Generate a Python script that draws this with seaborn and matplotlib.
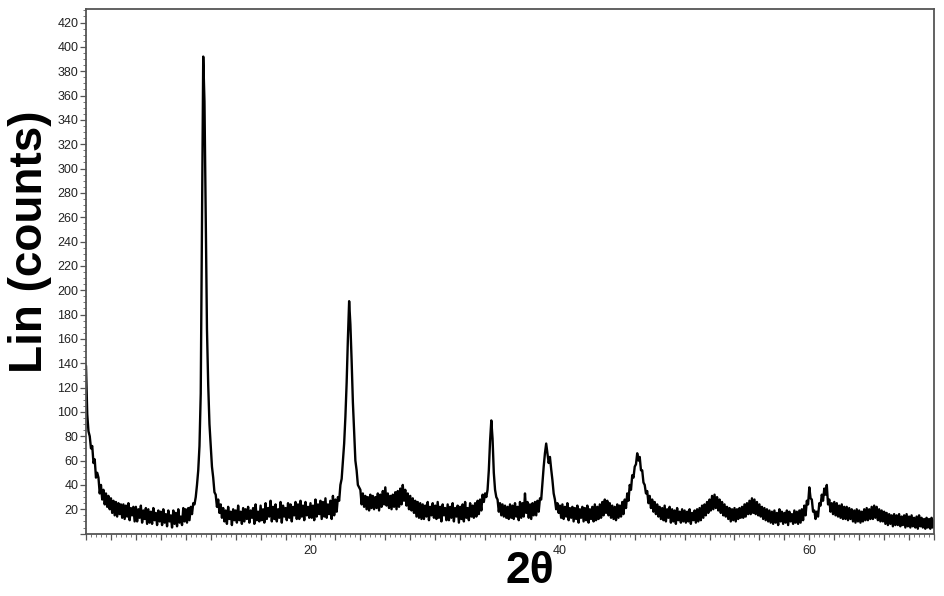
import numpy as np
import pandas as pd
import seaborn as sns
import matplotlib.pyplot as plt
from matplotlib.ticker import MultipleLocator, FuncFormatter

# XRD scan, 2theta from 2 to 70 deg, step 0.1
two_theta = np.round(np.arange(2.0, 70.05, 0.1), 1)

counts = [
    138, 98, 84, 80, 70, 72, 58, 61, 46, 50,      # 2
    46, 33, 40, 28, 36, 24, 33, 22, 31, 20,       # 3
    29, 17, 27, 15, 26, 14, 25, 16, 24, 13,       # 4
    24, 12, 23, 14, 25, 11, 21, 15, 22, 10,       # 5
    22, 10, 20, 13, 23, 9, 19, 12, 21, 8,         # 6
    20, 9, 18, 8, 21, 11, 17, 7, 19, 10,          # 7
    18, 7, 20, 9, 16, 6, 19, 10, 15, 5,           # 8
    19, 8, 17, 6, 20, 9, 14, 7, 21, 10,           # 9
    20, 9, 21, 11, 22, 16, 25, 24, 30, 40,        # 10
    52, 72, 115, 250, 392, 355, 260, 168, 122, 90,  # 11
    72, 55, 46, 34, 32, 22, 28, 17, 24, 13,       # 12
    21, 10, 19, 8, 22, 12, 18, 7, 20, 11,         # 13
    19, 9, 23, 11, 18, 8, 21, 10, 20, 12,         # 14
    22, 9, 19, 13, 21, 8, 24, 11, 18, 10,         # 15
    23, 11, 20, 9, 25, 12, 21, 14, 27, 10,        # 16
    22, 12, 24, 10, 20, 13, 26, 9, 23, 14,        # 17
    21, 11, 25, 13, 24, 10, 22, 15, 26, 12,       # 18
    24, 12, 27, 14, 23, 11, 26, 15, 22, 13,       # 19
    25, 13, 23, 11, 28, 14, 24, 16, 27, 12,       # 20
    26, 14, 29, 13, 24, 16, 27, 12, 31, 15,       # 21
    28, 18, 30, 27, 40, 45, 60, 74, 96, 124,      # 22
    160, 191, 172, 142, 108, 84, 60, 52, 40, 38,  # 23
    36, 24, 33, 22, 31, 20, 30, 19, 32, 21,       # 24
    31, 20, 30, 21, 33, 19, 32, 22, 35, 24,       # 25
    38, 23, 33, 21, 31, 20, 32, 22, 34, 20,       # 26
    35, 22, 37, 24, 40, 27, 36, 23, 33, 20,       # 27
    31, 19, 29, 17, 27, 14, 26, 13, 25, 12,       # 28
    24, 12, 23, 14, 26, 11, 22, 15, 25, 13,       # 29
    23, 12, 26, 13, 22, 10, 24, 15, 21, 11,       # 30
    24, 11, 22, 13, 25, 10, 21, 14, 23, 9,        # 31
    22, 12, 24, 10, 26, 13, 21, 11, 25, 14,       # 32
    23, 13, 25, 14, 27, 16, 28, 19, 32, 26,       # 33
    33, 30, 36, 52, 76, 93, 78, 50, 36, 30,       # 34
    28, 18, 25, 15, 24, 14, 23, 13, 22, 12,       # 35
    24, 13, 23, 12, 25, 14, 22, 11, 26, 13,       # 36
    25, 14, 33, 17, 26, 13, 24, 12, 25, 15,       # 37
    26, 15, 27, 18, 29, 28, 42, 55, 66, 74,       # 38
    66, 58, 63, 53, 44, 33, 28, 20, 25, 17,       # 39
    23, 13, 24, 12, 22, 14, 25, 11, 21, 13,       # 40
    22, 10, 21, 12, 23, 9, 20, 13, 22, 10,        # 41
    21, 11, 23, 9, 20, 12, 22, 10, 24, 11,        # 42
    22, 12, 24, 13, 26, 15, 28, 17, 27, 15,       # 43
    25, 13, 23, 12, 22, 11, 24, 13, 23, 14,       # 44
    26, 16, 28, 21, 33, 27, 40, 36, 48, 46,       # 45
    55, 57, 66, 60, 63, 52, 52, 42, 40, 33,       # 46
    35, 25, 31, 21, 28, 18, 26, 16, 24, 14,       # 47
    22, 12, 21, 11, 23, 10, 20, 13, 22, 9,        # 48
    20, 10, 19, 8, 21, 11, 18, 9, 20, 10,         # 49
    19, 9, 18, 10, 20, 8, 17, 11, 19, 9,          # 50
    20, 10, 21, 11, 23, 13, 24, 15, 26, 17,       # 51
    28, 19, 31, 20, 32, 21, 30, 19, 28, 17,       # 52
    26, 15, 24, 14, 22, 12, 21, 10, 20, 11,       # 53
    21, 10, 20, 12, 21, 13, 22, 13, 24, 14,       # 54
    25, 16, 27, 16, 29, 17, 28, 16, 26, 15,       # 55
    24, 14, 22, 12, 21, 11, 20, 10, 19, 9,        # 56
    18, 8, 19, 9, 17, 7, 20, 10, 18, 8,           # 57
    17, 9, 19, 7, 18, 10, 16, 8, 19, 9,           # 58
    18, 8, 19, 9, 20, 11, 23, 15, 27, 24,         # 59
    38, 29, 28, 18, 19, 12, 18, 14, 25, 23,       # 60
    32, 27, 37, 32, 40, 24, 28, 18, 25, 16,       # 61
    26, 15, 25, 14, 23, 13, 24, 12, 22, 12,       # 62
    22, 11, 21, 12, 20, 10, 19, 9, 20, 10,        # 63
    19, 9, 18, 10, 20, 11, 21, 11, 20, 12,        # 64
    22, 12, 23, 13, 22, 11, 20, 10, 19, 10,       # 65
    18, 8, 17, 7, 16, 8, 15, 6, 16, 7,            # 66
    15, 7, 16, 6, 14, 7, 15, 5, 16, 6,            # 67
    14, 5, 15, 6, 13, 5, 14, 4, 15, 6,            # 68
    13, 5, 12, 4, 13, 5, 12, 4, 13, 5,            # 69
    11,                                           # 70
]

df = pd.DataFrame({'two_theta': two_theta, 'counts': counts})

sns.set_style('white')
plt.rcParams['font.family'] = ['Liberation Sans', 'DejaVu Sans']

fig = plt.figure(figsize=(9.45, 5.96), dpi=100)
ax = fig.add_axes([0.091, 0.1047, 0.8974, 0.880])

sns.lineplot(data=df, x='two_theta', y='counts', color='black', lw=1.7,
             estimator=None, sort=False, ax=ax)

ax.set_xlim(2, 70)
ax.set_ylim(0, 431)

# x: ticks every 2, labels only at 20/40/60, minor every 0.4
ax.xaxis.set_major_locator(MultipleLocator(2))
ax.xaxis.set_minor_locator(MultipleLocator(0.4))
ax.xaxis.set_major_formatter(FuncFormatter(lambda v, p: f'{v:.0f}' if round(v) % 20 == 0 else ''))
ax.yaxis.set_major_locator(MultipleLocator(20))
ax.yaxis.set_minor_locator(MultipleLocator(5))
ax.yaxis.set_major_formatter(FuncFormatter(lambda v, p: '' if v <= 0 else f'{v:.0f}'))

ax.tick_params(axis='both', which='both', bottom=True, left=True, top=False, right=False)
ax.tick_params(axis='both', which='major', direction='out', length=4, width=0.9,
               color='#555555', labelsize=9, labelcolor='#222222', pad=1.5)
ax.tick_params(axis='both', which='minor', direction='out', length=2, width=0.7,
               color='#777777')
ax.tick_params(axis='x', which='major', pad=4)

for s in ax.spines.values():
    s.set_color('#555555')
    s.set_linewidth(1.3)

ax.set_xlabel('2θ', fontsize=32, fontweight='bold', color='black')
ax.set_ylabel('Lin (counts)', fontsize=33, fontweight='bold', color='black')
ax.xaxis.label.set_va('center')
ax.yaxis.label.set_va('center')
ax.xaxis.set_label_coords(0.524, -0.073)
ax.yaxis.set_label_coords(-0.066, 0.556)

fig.savefig('out.png', dpi=100)
